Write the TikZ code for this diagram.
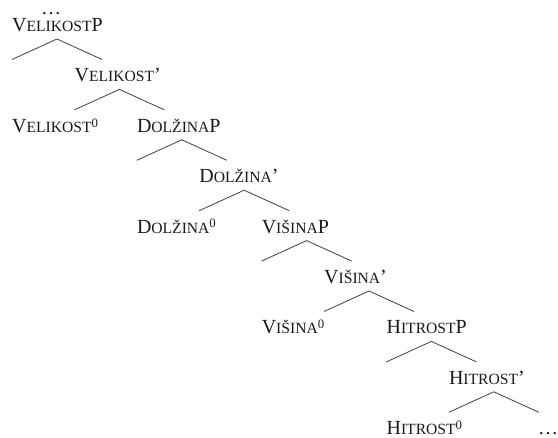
\documentclass[tikz,border=0pt]{standalone}
\usepackage{fontspec}
\setmainfont{Liberation Serif}
% fake small capitals: first letter full size, the rest as smaller capitals
\newcommand\SmallCaps[1]{{\fontsize{15.6}{15.6}\selectfont #1}}
\newcommand\Zero{\raisebox{5.2pt}{\fontsize{12.8}{12.8}\selectfont 0}}
\begin{document}
\begin{tikzpicture}[x=1pt,y=-1pt,
  lab/.style={anchor=base west,inner sep=0pt,font=\fontsize{20}{20}\selectfont,text=black!90},
  branch/.style={draw=black!75,line width=0.8pt}]
\useasboundingbox (0,0) rectangle (558,438);
% labels sit in columns 62.4 apart and rows 50.4 apart
\node[lab] (top) at (41,15) {\ldots};
\node[lab] (vp)  at (12.0,31.5)  {V\SmallCaps{ELIKOST}P};
\node[lab] (vb)  at (74.4,81.9)  {V\SmallCaps{ELIKOST}’};
\node[lab] (v0)  at (12.0,132.3) {V\SmallCaps{ELIKOST}\Zero};
\node[lab] (dp)  at (136.8,132.3) {D\SmallCaps{OLŽINA}P};
\node[lab] (db)  at (199.2,182.7) {D\SmallCaps{OLŽINA}’};
\node[lab] (d0)  at (136.8,233.1) {D\SmallCaps{OLŽINA}\Zero};
\node[lab] (wp)  at (261.6,233.1) {V\SmallCaps{IŠINA}P};
\node[lab] (wb)  at (324.0,283.5) {V\SmallCaps{IŠINA}’};
\node[lab] (w0)  at (261.6,333.9) {V\SmallCaps{IŠINA}\Zero};
\node[lab] (hp)  at (386.4,333.9) {H\SmallCaps{ITROST}P};
\node[lab] (hb)  at (448.8,384.3) {H\SmallCaps{ITROST}’};
\node[lab] (h0)  at (386.4,434.7) {H\SmallCaps{ITROST}\Zero};
\node[lab] (end) at (538,434.7) {\ldots};
% each branching: apex below the label, two arms 90 wide
\foreach \n in {vp,vb,dp,db,wp,wb,hp,hb}{
  \draw[branch] ([shift={(0,28)}]\n.base west) -- ([shift={(45,7.5)}]\n.base west) -- ([shift={(90,28)}]\n.base west);
}
\end{tikzpicture}
\end{document}
